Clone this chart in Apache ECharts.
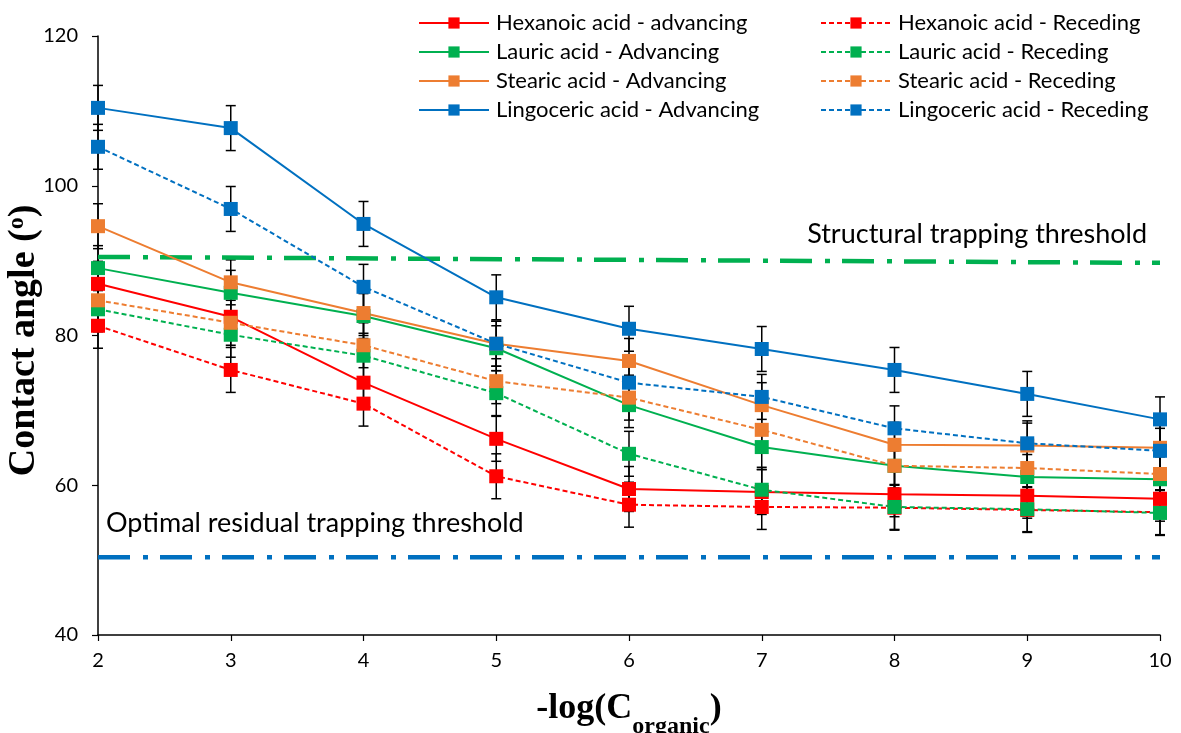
<!DOCTYPE html>
<html>
<head>
<meta charset="utf-8">
<script src="https://cdn.jsdelivr.net/npm/echarts@6/dist/echarts.min.js"></script>
<style>
  html, body { margin: 0; padding: 0; background: #fff; }
  #chart { width: 1181px; height: 733px; }
</style>
</head>
<body>
<div id="chart"></div>
<script>
// -log(C_organic) values on the x axis
const xValues = [2, 3, 4, 5, 6, 7, 8, 9, 10];

// Contact angles (degrees)
const hexanoicAdv   = [86.9, 82.5, 73.7, 66.2, 59.5, 59.1, 58.8, 58.6, 58.2];
const hexanoicRec   = [81.3, 75.4, 70.9, 61.2, 57.4, 57.1, 57.0, 56.7, 56.4];
const lauricAdv     = [89.0, 85.7, 82.6, 78.3, 70.7, 65.1, 62.6, 61.1, 60.8];
const lauricRec     = [83.5, 80.1, 77.3, 72.3, 64.2, 59.4, 57.1, 56.8, 56.3];
const stearicAdv    = [94.6, 87.1, 83.0, 78.9, 76.6, 70.7, 65.4, 65.3, 65.0];
const stearicRec    = [84.7, 81.7, 78.7, 73.9, 71.7, 67.4, 62.6, 62.3, 61.5];
const lingocericAdv = [110.4, 107.7, 94.9, 85.1, 80.9, 78.2, 75.4, 72.2, 68.8];
const lingocericRec = [105.2, 96.9, 86.5, 78.9, 73.7, 71.8, 67.6, 65.6, 64.6];

// Error bar half-width (degrees)
const errorHalf = 3;

// Threshold reference lines [x, y] at both ends
const structuralLine = [[2, 90.5], [10, 89.7]];
const residualLine   = [[2, 50.4], [10, 50.4]];

// Axis ticks
const yTicks = { min: 40, max: 120, step: 20 };
const xTicks = { min: 2, max: 10, step: 1 };

const COLORS = { red: '#FF0000', green: '#00B050', orange: '#ED7D31', blue: '#0070C0' };

const seriesDefs = [
  { name: 'Hexanoic acid - advancing',   data: hexanoicAdv,   color: COLORS.red,    dashed: false },
  { name: 'Hexanoic acid - Receding',    data: hexanoicRec,   color: COLORS.red,    dashed: true },
  { name: 'Lauric acid - Advancing',     data: lauricAdv,     color: COLORS.green,  dashed: false },
  { name: 'Lauric acid - Receding',      data: lauricRec,     color: COLORS.green,  dashed: true },
  { name: 'Stearic acid - Advancing',    data: stearicAdv,    color: COLORS.orange, dashed: false },
  { name: 'Stearic acid - Receding',     data: stearicRec,    color: COLORS.orange, dashed: true },
  { name: 'Lingoceric acid - Advancing', data: lingocericAdv, color: COLORS.blue,   dashed: false },
  { name: 'Lingoceric acid - Receding',  data: lingocericRec, color: COLORS.blue,   dashed: true }
];

const FONT = 'Lato, "Open Sans", sans-serif';
const SERIF = '"Liberation Serif", "DejaVu Serif", serif';

// Error bars: vertical black whiskers with caps
const errData = [];
seriesDefs.forEach(s => s.data.forEach((v, i) => errData.push([xValues[i], v - errorHalf, v + errorHalf])));

const errorSeries = {
  type: 'custom',
  name: 'errors',
  z: 1,
  silent: true,
  data: errData,
  encode: { x: 0, y: [1, 2] },
  renderItem: function (params, api) {
    const lo = api.coord([api.value(0), api.value(1)]);
    const hi = api.coord([api.value(0), api.value(2)]);
    const cap = 5;
    const st = { stroke: '#000', lineWidth: 1.5 };
    return {
      type: 'group',
      children: [
        { type: 'line', shape: { x1: lo[0], y1: lo[1], x2: hi[0], y2: hi[1] }, style: st },
        { type: 'line', shape: { x1: lo[0] - cap, y1: lo[1], x2: lo[0] + cap, y2: lo[1] }, style: st },
        { type: 'line', shape: { x1: hi[0] - cap, y1: hi[1], x2: hi[0] + cap, y2: hi[1] }, style: st }
      ]
    };
  }
};

const dataSeries = seriesDefs.map(s => ({
  type: 'line',
  name: s.name,
  z: 3,
  data: s.data.map((v, i) => [xValues[i], v]),
  symbol: 'rect',
  symbolSize: 14,
  showAllSymbol: true,
  itemStyle: { color: s.color },
  lineStyle: { color: s.color, width: 2, type: s.dashed ? [5, 3] : 'solid' },
  emphasis: { disabled: true },
  animation: false
}));

const thresholdStyle = { width: 4.5, type: [32, 13, 5, 12] };
const thresholdSeries = [
  {
    type: 'line', name: 'Structural trapping threshold', z: 2,
    data: structuralLine, symbol: 'none',
    lineStyle: Object.assign({ color: COLORS.green }, thresholdStyle),
    silent: true, animation: false
  },
  {
    type: 'line', name: 'Optimal residual trapping threshold', z: 2,
    data: residualLine, symbol: 'none',
    lineStyle: Object.assign({ color: COLORS.blue }, thresholdStyle),
    silent: true, animation: false
  }
];

const legendCommon = {
  orient: 'vertical',
  padding: 0,
  itemWidth: 70,
  itemHeight: 14,
  itemGap: 7,
  textStyle: { fontFamily: FONT, fontSize: 22, color: '#000', padding: [0, 0, 0, 2] },
  selectedMode: false
};

const chart = echarts.init(document.getElementById('chart'), null, { renderer: 'canvas' });
chart.setOption({
  animation: false,
  backgroundColor: '#fff',
  grid: { left: 98, right: 21, top: 36, bottom: 98, containLabel: false, outerBoundsMode: 'none' },
  legend: [
    Object.assign({}, legendCommon, {
      left: 418, top: 12,
      data: seriesDefs.filter(s => !s.dashed).map(s => s.name)
    }),
    Object.assign({}, legendCommon, {
      left: 820, top: 12,
      data: seriesDefs.filter(s => s.dashed).map(s => s.name)
    })
  ],
  xAxis: {
    type: 'value',
    min: xTicks.min, max: xTicks.max, interval: xTicks.step,
    axisLine: { lineStyle: { color: '#000', width: 1.5 } },
    axisTick: { show: true, length: 6, lineStyle: { color: '#000', width: 1.2 } },
    axisLabel: { fontFamily: FONT, fontSize: 20, color: '#000', margin: 16 },
    splitLine: { show: false },
    name: '{b|-log(C}{s|organic}{b|)}',
    nameLocation: 'middle',
    nameMoveOverlap: false,
    nameGap: 50,
    nameTextStyle: {
      rich: {
        b: { fontFamily: SERIF, fontWeight: 'bold', fontSize: 36, color: '#000', verticalAlign: 'bottom', lineHeight: 42 },
        s: { fontFamily: SERIF, fontWeight: 'bold', fontSize: 24, color: '#000', verticalAlign: 'bottom', lineHeight: 28, padding: [0, 0, -12, 0] }
      }
    }
  },
  yAxis: {
    type: 'value',
    min: yTicks.min, max: yTicks.max, interval: yTicks.step,
    axisLine: { show: true, lineStyle: { color: '#000', width: 1.5 } },
    axisTick: { show: true, length: 6, lineStyle: { color: '#000', width: 1.2 } },
    axisLabel: { fontFamily: FONT, fontSize: 20, color: '#000', margin: 20 },
    splitLine: { show: false },
    name: '{b|Contact angle (}{p|o}{b|)}',
    nameLocation: 'middle',
    nameRotate: 90,
    nameMoveOverlap: false,
    nameGap: 49,
    nameTextStyle: {
      padding: [0, 10, 0, 0],
      rich: {
        b: { fontFamily: SERIF, fontWeight: 'bold', fontSize: 38, color: '#000', verticalAlign: 'top', lineHeight: 44 },
        p: { fontFamily: SERIF, fontWeight: 'bold', fontSize: 24, color: '#000', verticalAlign: 'top', lineHeight: 44 }
      }
    }
  },
  graphic: [
    {
      type: 'text', right: 34, top: 221,
      style: { text: 'Structural trapping threshold', font: '27px ' + FONT, fill: '#000' }
    },
    {
      type: 'text', left: 106, top: 510,
      style: { text: 'Optimal residual trapping threshold', font: '27px ' + FONT, fill: '#000' }
    }
  ],
  series: [errorSeries].concat(thresholdSeries, dataSeries)
});
</script>
</body>
</html>
